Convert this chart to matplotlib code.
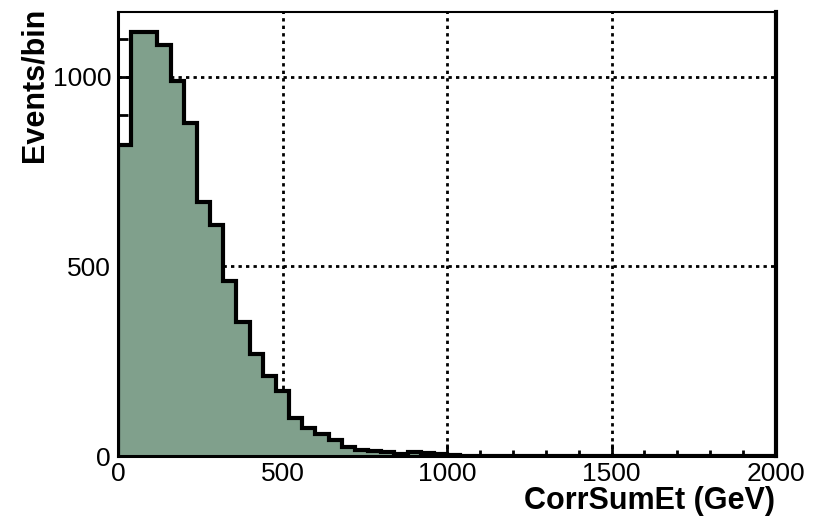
import numpy as np
import matplotlib
matplotlib.use("Agg")
import matplotlib.pyplot as plt

# histogram contents, 40 GeV bins from 0 to 2000
bin_edges = np.arange(0, 2040, 40)
counts = [820, 1119, 1117, 1084, 988, 878, 670, 609, 462, 354,
          269, 211, 171, 100, 74, 58, 42, 24, 16, 13,
          10, 5, 10, 7, 5, 2, 1, 0, 0, 0,
          0, 0, 0, 0, 0, 0, 0, 0, 0, 0,
          0, 0, 0, 0, 0, 0, 0, 0, 0, 0]
x_ticks = [0, 500, 1000, 1500, 2000]
y_ticks = [0, 500, 1000]

plt.rcParams['font.family'] = ['Liberation Sans', 'DejaVu Sans']

fig = plt.figure(figsize=(8.18, 5.22), dpi=100)
ax = fig.add_axes([118 / 818, 1 - 456 / 522, (776 - 118) / 818, (456 - 12) / 522])

ax.stairs(counts, bin_edges, fill=True, color='#80a08c', zorder=2)
ax.stairs(counts, bin_edges, color='black', linewidth=3, zorder=3)

ax.set_xlim(0, 2000)
ax.set_ylim(0, 1171)
ax.set_xticks(x_ticks)
ax.set_yticks(y_ticks)
ax.set_xticks(np.arange(0, 2001, 100), minor=True)
ax.set_yticks(np.arange(0, 1171, 100), minor=True)

# dotted grid sits behind the histogram
ax.grid(True, which='major', color='black', linestyle=(0, (1.2, 1.5)), linewidth=2, zorder=1)
ax.set_axisbelow(True)

ax.tick_params(axis='x', which='major', direction='in', length=9, width=2, labelsize=19, pad=4)
ax.tick_params(axis='x', which='minor', direction='in', length=4.5, width=2)
ax.tick_params(axis='y', which='major', direction='in', length=16, width=2, labelsize=19, pad=5)
ax.tick_params(axis='y', which='minor', direction='in', length=7.5, width=2)

for s in ax.spines.values():
    s.set_linewidth(2.2)
    s.set_zorder(4)
ax.spines['top'].set_linewidth(1.5)
ax.spines['right'].set_linewidth(3)

fig.text(35 / 818, 1 - 8 / 522, 'Events/bin', rotation=90, ha='center', va='top',
         fontsize=22, fontweight='bold')
fig.text(775 / 818, 1 - 509 / 522, 'CorrSumEt (GeV)', ha='right', va='baseline',
         fontsize=22, fontweight='bold')

fig.savefig('out.png', dpi=100)
